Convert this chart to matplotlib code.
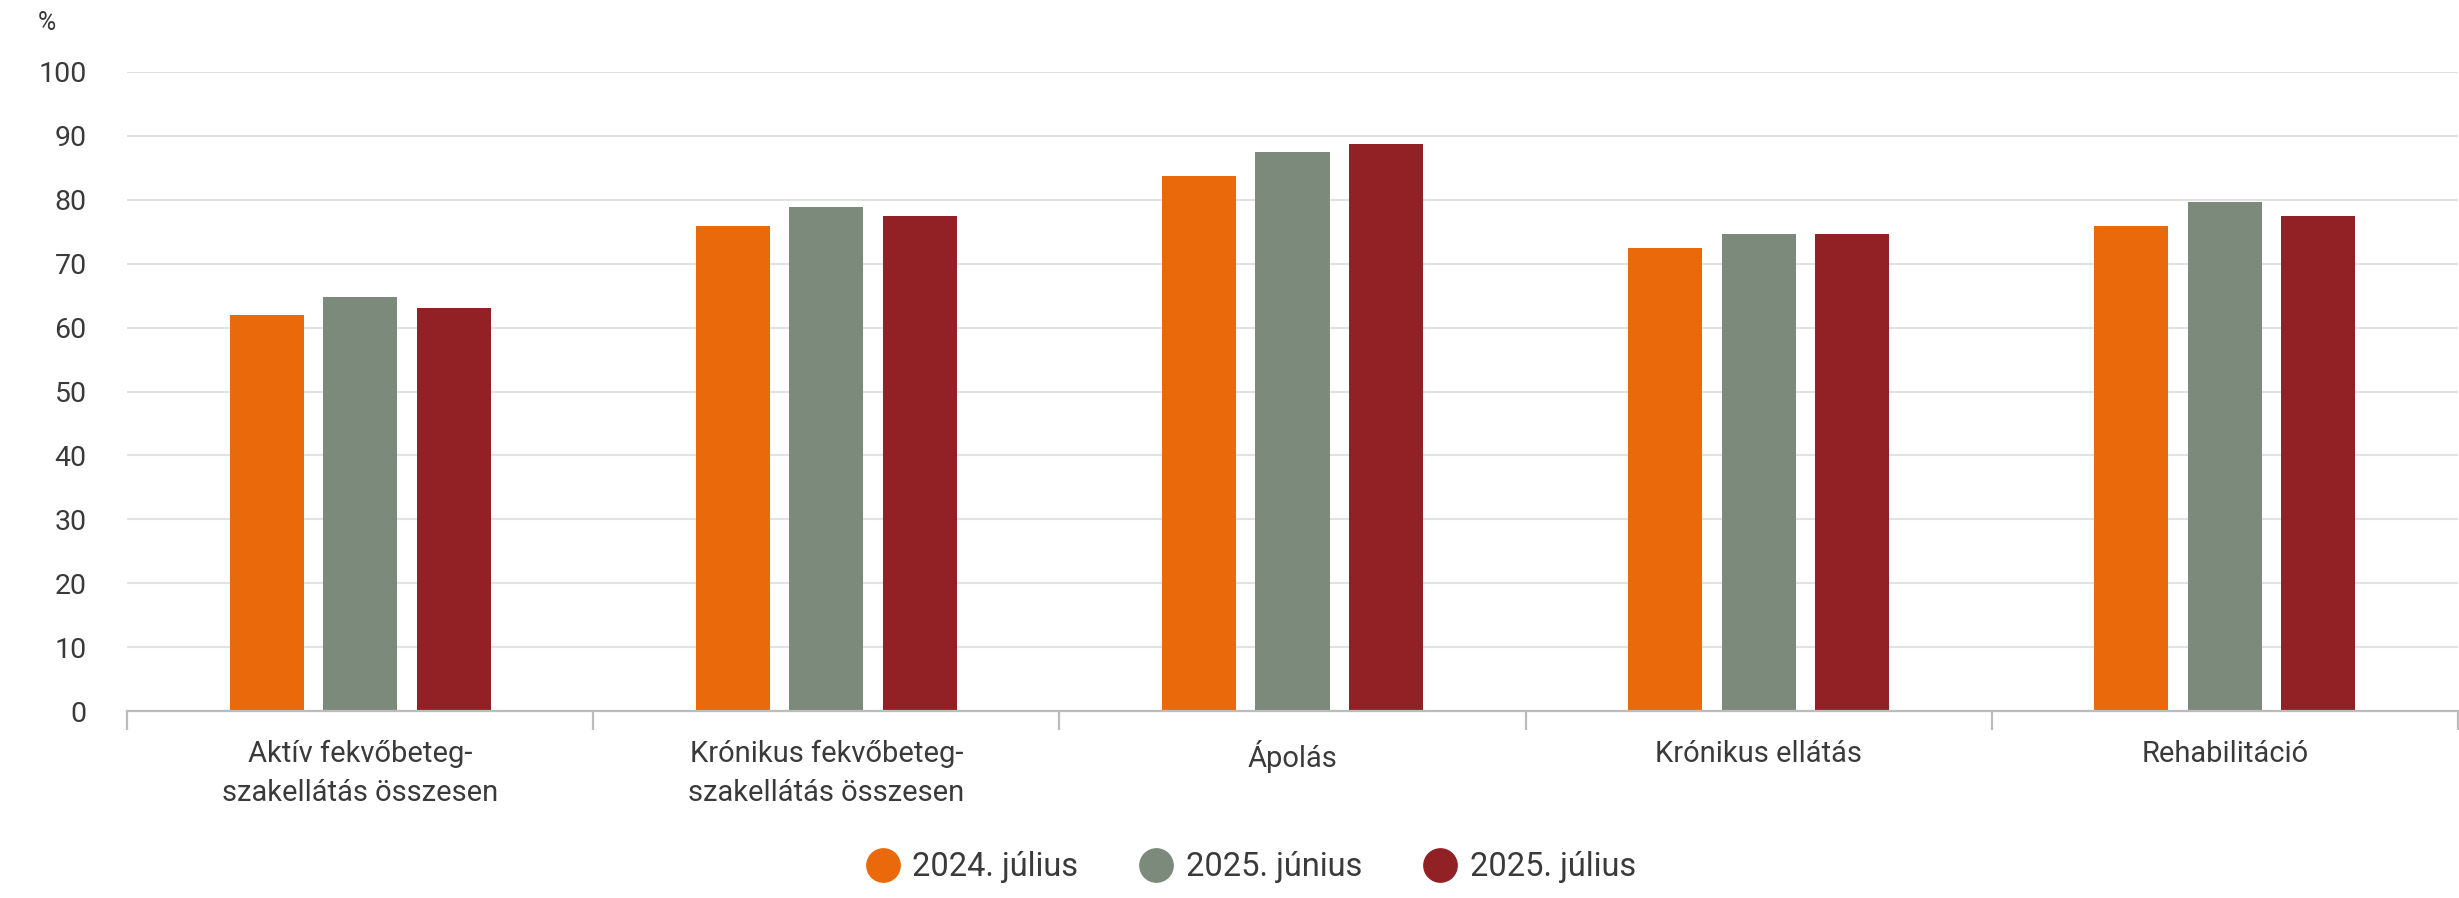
import matplotlib
matplotlib.use("Agg")
import matplotlib.pyplot as plt
from matplotlib.lines import Line2D
import numpy as np

plt.rcParams['font.family'] = ['Roboto', 'DejaVu Sans']

categories = ["Aktív fekvőbeteg-\nszakellátás összesen",
              "Krónikus fekvőbeteg-\nszakellátás összesen",
              "Ápolás",
              "Krónikus ellátás",
              "Rehabilitáció"]
series_names = ["2024. július", "2025. június", "2025. július"]
jul_2024 = [61.9, 75.9, 83.7, 72.5, 75.9]
jun_2025 = [64.8, 78.8, 87.5, 74.7, 79.7]
jul_2025 = [63.1, 77.5, 88.7, 74.7, 77.5]
yticks = [0, 10, 20, 30, 40, 50, 60, 70, 80, 90, 100]

colors = ["#EA690B", "#7B8A7B", "#922126"]
text_color = "#3a3a3a"

W, H = 2459, 898
fig = plt.figure(figsize=(W/100, H/100), dpi=100)
ax = fig.add_axes([127/W, 1-711/H, (2458-127)/W, (711-72)/H])

x = np.arange(len(categories))
pitch = 0.2006
bw = 0.159
for i, (vals, c) in enumerate(zip([jul_2024, jun_2025, jul_2025], colors)):
    ax.bar(x + (i-1)*pitch, vals, width=bw, color=c, zorder=3, label=series_names[i])

ax.set_xlim(-0.5, len(categories)-0.5)
ax.set_ylim(0, 100)
ax.set_yticks(yticks)
ax.set_yticklabels([str(v) for v in yticks])
ax.yaxis.grid(True, color="#e2e2e2", linewidth=1.5, zorder=0)
ax.set_axisbelow(True)
for s in ["top", "right", "left"]:
    ax.spines[s].set_visible(False)
ax.spines["bottom"].set_color("#bcbcbc")
ax.spines["bottom"].set_linewidth(1.6)
ax.spines["bottom"].set_zorder(4)

ax.tick_params(axis='y', length=0, pad=29, labelsize=20.5, labelcolor=text_color)
ax.set_xticks(x)
ax.set_xticklabels(categories, linespacing=1.48, va='top')
ax.tick_params(axis='x', which='major', length=0, pad=21, labelsize=21, labelcolor=text_color)
ax.set_xticks(np.arange(len(categories)+1) - 0.5, minor=True)
ax.tick_params(axis='x', which='minor', length=14, width=1.6, color="#bcbcbc")

fig.text(38/W, 1-23/H, "%", fontsize=18, color=text_color, ha='left', va='center')

handles = [Line2D([0], [0], marker='o', linestyle='none', markersize=24,
                  markerfacecolor=c, markeredgecolor=c) for c in colors]
fig.legend(handles, series_names, loc='center', bbox_to_anchor=(1251/W, 1-867/H),
           ncol=3, frameon=False, fontsize=23.5, labelcolor=text_color,
           handletextpad=0.4, columnspacing=1.9, handlelength=1.0)

fig.savefig("out.png", dpi=100)
